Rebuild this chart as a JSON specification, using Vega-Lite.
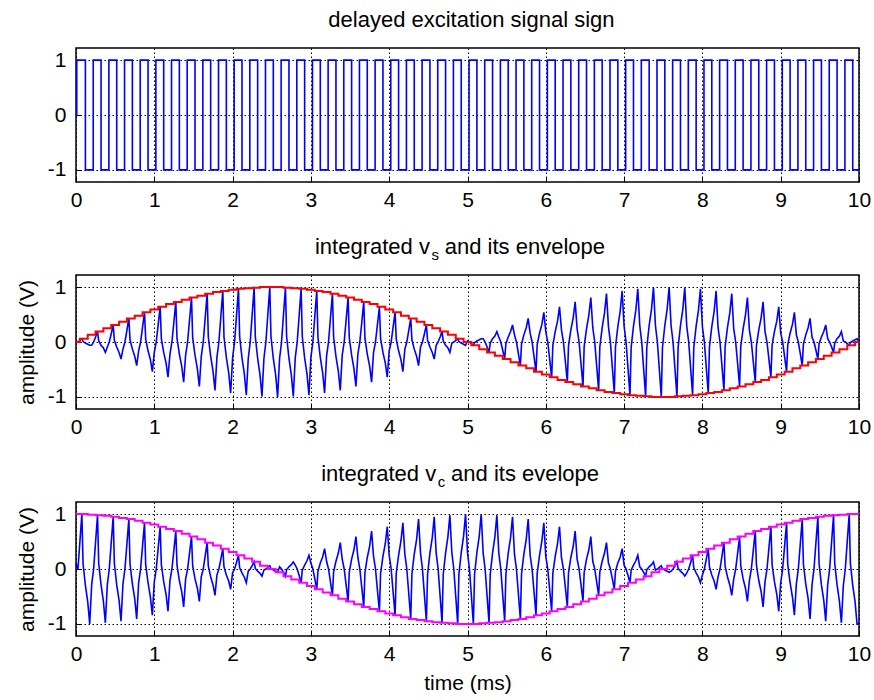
{
  "$schema": "https://vega.github.io/schema/vega-lite/v6.json",
  "background": "white",
  "padding": {"left": 15, "top": 8, "right": 5, "bottom": 5},
  "config": {
    "font": "Liberation Sans",
    "view": {"stroke": "#000000", "strokeWidth": 1.5},
    "axis": {
      "grid": true, "gridColor": "#000000", "gridDash": [1.5, 2.5], "gridWidth": 1, "gridOpacity": 1,
      "domain": false, "ticks": true, "tickColor": "#000000", "tickSize": -5, "tickWidth": 1,
      "labelFont": "Liberation Sans", "labelFontSize": 21, "labelColor": "#000000", "labelFlush": false,
      "titleFont": "Liberation Sans", "titleFontSize": 21, "titleFontWeight": "normal", "titleColor": "#000000"
    },
    "axisX": {"labelPadding": 12},
    "axisY": {"labelPadding": 15}
  },
  "datasets": {
    "sq": [
      {"t":0,"q":0},{"t":0.01,"q":1},{"t":0.12,"q":-1},{"t":0.22,"q":1},{"t":0.32,"q":-1},{"t":0.42,"q":1},{"t":0.52,"q":-1},{"t":0.62,"q":1},{"t":0.72,"q":-1},{"t":0.82,"q":1},{"t":0.92,"q":-1},
      {"t":1.02,"q":1},{"t":1.12,"q":-1},{"t":1.22,"q":1},{"t":1.32,"q":-1},{"t":1.42,"q":1},{"t":1.52,"q":-1},{"t":1.62,"q":1},{"t":1.72,"q":-1},{"t":1.82,"q":1},{"t":1.92,"q":-1},
      {"t":2.02,"q":1},{"t":2.12,"q":-1},{"t":2.22,"q":1},{"t":2.32,"q":-1},{"t":2.42,"q":1},{"t":2.52,"q":-1},{"t":2.62,"q":1},{"t":2.72,"q":-1},{"t":2.82,"q":1},{"t":2.92,"q":-1},
      {"t":3.02,"q":1},{"t":3.12,"q":-1},{"t":3.22,"q":1},{"t":3.32,"q":-1},{"t":3.42,"q":1},{"t":3.52,"q":-1},{"t":3.62,"q":1},{"t":3.72,"q":-1},{"t":3.82,"q":1},{"t":3.92,"q":-1},
      {"t":4.02,"q":1},{"t":4.12,"q":-1},{"t":4.22,"q":1},{"t":4.32,"q":-1},{"t":4.42,"q":1},{"t":4.52,"q":-1},{"t":4.62,"q":1},{"t":4.72,"q":-1},{"t":4.82,"q":1},{"t":4.92,"q":-1},
      {"t":5.02,"q":1},{"t":5.12,"q":-1},{"t":5.22,"q":1},{"t":5.32,"q":-1},{"t":5.42,"q":1},{"t":5.52,"q":-1},{"t":5.62,"q":1},{"t":5.72,"q":-1},{"t":5.82,"q":1},{"t":5.92,"q":-1},
      {"t":6.02,"q":1},{"t":6.12,"q":-1},{"t":6.22,"q":1},{"t":6.32,"q":-1},{"t":6.42,"q":1},{"t":6.52,"q":-1},{"t":6.62,"q":1},{"t":6.72,"q":-1},{"t":6.82,"q":1},{"t":6.92,"q":-1},
      {"t":7.02,"q":1},{"t":7.12,"q":-1},{"t":7.22,"q":1},{"t":7.32,"q":-1},{"t":7.42,"q":1},{"t":7.52,"q":-1},{"t":7.62,"q":1},{"t":7.72,"q":-1},{"t":7.82,"q":1},{"t":7.92,"q":-1},
      {"t":8.02,"q":1},{"t":8.12,"q":-1},{"t":8.22,"q":1},{"t":8.32,"q":-1},{"t":8.42,"q":1},{"t":8.52,"q":-1},{"t":8.62,"q":1},{"t":8.72,"q":-1},{"t":8.82,"q":1},{"t":8.92,"q":-1},
      {"t":9.02,"q":1},{"t":9.12,"q":-1},{"t":9.22,"q":1},{"t":9.32,"q":-1},{"t":9.42,"q":1},{"t":9.52,"q":-1},{"t":9.62,"q":1},{"t":9.72,"q":-1},{"t":9.82,"q":1},{"t":9.92,"q":-1},
      {"t":10,"q":-1}
    ],
    "env": [
      {"t":0,"es":0,"ec":1},{"t":0.05,"es":0.06,"ec":1},{"t":0.15,"es":0.13,"ec":0.99},{"t":0.25,"es":0.19,"ec":0.98},{"t":0.35,"es":0.25,"ec":0.97},{"t":0.45,"es":0.31,"ec":0.95},{"t":0.55,"es":0.37,"ec":0.93},{"t":0.65,"es":0.43,"ec":0.91},{"t":0.75,"es":0.48,"ec":0.88},{"t":0.85,"es":0.54,"ec":0.84},{"t":0.95,"es":0.59,"ec":0.81},
      {"t":1.05,"es":0.64,"ec":0.77},{"t":1.15,"es":0.69,"ec":0.73},{"t":1.25,"es":0.73,"ec":0.69},{"t":1.35,"es":0.77,"ec":0.64},{"t":1.45,"es":0.81,"ec":0.59},{"t":1.55,"es":0.84,"ec":0.54},{"t":1.65,"es":0.88,"ec":0.48},{"t":1.75,"es":0.91,"ec":0.43},{"t":1.85,"es":0.93,"ec":0.37},{"t":1.95,"es":0.95,"ec":0.31},
      {"t":2.05,"es":0.97,"ec":0.25},{"t":2.15,"es":0.98,"ec":0.19},{"t":2.25,"es":0.99,"ec":0.13},{"t":2.35,"es":1,"ec":0.06},{"t":2.45,"es":1,"ec":0},{"t":2.55,"es":1,"ec":-0.06},{"t":2.65,"es":0.99,"ec":-0.13},{"t":2.75,"es":0.98,"ec":-0.19},{"t":2.85,"es":0.97,"ec":-0.25},{"t":2.95,"es":0.95,"ec":-0.31},
      {"t":3.05,"es":0.93,"ec":-0.37},{"t":3.15,"es":0.91,"ec":-0.43},{"t":3.25,"es":0.88,"ec":-0.48},{"t":3.35,"es":0.84,"ec":-0.54},{"t":3.45,"es":0.81,"ec":-0.59},{"t":3.55,"es":0.77,"ec":-0.64},{"t":3.65,"es":0.73,"ec":-0.69},{"t":3.75,"es":0.69,"ec":-0.73},{"t":3.85,"es":0.64,"ec":-0.77},{"t":3.95,"es":0.59,"ec":-0.81},
      {"t":4.05,"es":0.54,"ec":-0.84},{"t":4.15,"es":0.48,"ec":-0.88},{"t":4.25,"es":0.43,"ec":-0.91},{"t":4.35,"es":0.37,"ec":-0.93},{"t":4.45,"es":0.31,"ec":-0.95},{"t":4.55,"es":0.25,"ec":-0.97},{"t":4.65,"es":0.19,"ec":-0.98},{"t":4.75,"es":0.13,"ec":-0.99},{"t":4.85,"es":0.06,"ec":-1},{"t":4.95,"es":0,"ec":-1},
      {"t":5.05,"es":-0.06,"ec":-1},{"t":5.15,"es":-0.13,"ec":-0.99},{"t":5.25,"es":-0.19,"ec":-0.98},{"t":5.35,"es":-0.25,"ec":-0.97},{"t":5.45,"es":-0.31,"ec":-0.95},{"t":5.55,"es":-0.37,"ec":-0.93},{"t":5.65,"es":-0.43,"ec":-0.91},{"t":5.75,"es":-0.48,"ec":-0.88},{"t":5.85,"es":-0.54,"ec":-0.84},{"t":5.95,"es":-0.59,"ec":-0.81},
      {"t":6.05,"es":-0.64,"ec":-0.77},{"t":6.15,"es":-0.69,"ec":-0.73},{"t":6.25,"es":-0.73,"ec":-0.69},{"t":6.35,"es":-0.77,"ec":-0.64},{"t":6.45,"es":-0.81,"ec":-0.59},{"t":6.55,"es":-0.84,"ec":-0.54},{"t":6.65,"es":-0.88,"ec":-0.48},{"t":6.75,"es":-0.91,"ec":-0.43},{"t":6.85,"es":-0.93,"ec":-0.37},{"t":6.95,"es":-0.95,"ec":-0.31},
      {"t":7.05,"es":-0.97,"ec":-0.25},{"t":7.15,"es":-0.98,"ec":-0.19},{"t":7.25,"es":-0.99,"ec":-0.13},{"t":7.35,"es":-1,"ec":-0.06},{"t":7.45,"es":-1,"ec":0},{"t":7.55,"es":-1,"ec":0.06},{"t":7.65,"es":-0.99,"ec":0.13},{"t":7.75,"es":-0.98,"ec":0.19},{"t":7.85,"es":-0.97,"ec":0.25},{"t":7.95,"es":-0.95,"ec":0.31},
      {"t":8.05,"es":-0.93,"ec":0.37},{"t":8.15,"es":-0.91,"ec":0.43},{"t":8.25,"es":-0.88,"ec":0.48},{"t":8.35,"es":-0.84,"ec":0.54},{"t":8.45,"es":-0.81,"ec":0.59},{"t":8.55,"es":-0.77,"ec":0.64},{"t":8.65,"es":-0.73,"ec":0.69},{"t":8.75,"es":-0.69,"ec":0.73},{"t":8.85,"es":-0.64,"ec":0.77},{"t":8.95,"es":-0.59,"ec":0.81},
      {"t":9.05,"es":-0.54,"ec":0.84},{"t":9.15,"es":-0.48,"ec":0.88},{"t":9.25,"es":-0.43,"ec":0.91},{"t":9.35,"es":-0.37,"ec":0.93},{"t":9.45,"es":-0.31,"ec":0.95},{"t":9.55,"es":-0.25,"ec":0.97},{"t":9.65,"es":-0.19,"ec":0.98},{"t":9.75,"es":-0.13,"ec":0.99},{"t":9.85,"es":-0.06,"ec":1},{"t":9.95,"es":0,"ec":1},
      {"t":10,"es":0,"ec":1}
    ],
    "bl": [
      {"t":0,"s":0,"c":0.1},{"t":0.025,"s":0,"c":0},{"t":0.05,"s":0.03,"c":0.5},{"t":0.075,"s":0.06,"c":1},{"t":0.09,"s":0.01,"c":0.1},{"t":0.12,"s":-0.02,"c":-0.3},{"t":0.15,"s":-0.04,"c":-0.6},{"t":0.175,"s":-0.06,"c":-1},
      {"t":0.2,"s":-0.06,"c":-0.29},{"t":0.225,"s":0,"c":0},{"t":0.25,"s":0.09,"c":0.49},{"t":0.275,"s":0.19,"c":0.98},{"t":0.29,"s":0.02,"c":0.1},{"t":0.32,"s":-0.06,"c":-0.29},{"t":0.35,"s":-0.11,"c":-0.59},{"t":0.375,"s":-0.19,"c":-0.98},
      {"t":0.4,"s":-0.09,"c":-0.29},{"t":0.425,"s":0,"c":0},{"t":0.45,"s":0.15,"c":0.48},{"t":0.475,"s":0.31,"c":0.95},{"t":0.49,"s":0.03,"c":0.1},{"t":0.52,"s":-0.09,"c":-0.29},{"t":0.55,"s":-0.19,"c":-0.57},{"t":0.575,"s":-0.31,"c":-0.95},
      {"t":0.6,"s":-0.13,"c":-0.27},{"t":0.625,"s":0,"c":0},{"t":0.65,"s":0.21,"c":0.45},{"t":0.675,"s":0.43,"c":0.91},{"t":0.69,"s":0.04,"c":0.09},{"t":0.72,"s":-0.13,"c":-0.27},{"t":0.75,"s":-0.26,"c":-0.54},{"t":0.775,"s":-0.43,"c":-0.91},
      {"t":0.8,"s":-0.16,"c":-0.25},{"t":0.825,"s":0,"c":0},{"t":0.85,"s":0.27,"c":0.42},{"t":0.875,"s":0.54,"c":0.84},{"t":0.89,"s":0.05,"c":0.08},{"t":0.92,"s":-0.16,"c":-0.25},{"t":0.95,"s":-0.32,"c":-0.51},{"t":0.975,"s":-0.54,"c":-0.84},
      {"t":1,"s":-0.19,"c":-0.23},{"t":1.025,"s":0,"c":0},{"t":1.05,"s":0.32,"c":0.39},{"t":1.075,"s":0.64,"c":0.77},{"t":1.09,"s":0.06,"c":0.08},{"t":1.12,"s":-0.19,"c":-0.23},{"t":1.15,"s":-0.38,"c":-0.46},{"t":1.175,"s":-0.64,"c":-0.77},
      {"t":1.2,"s":-0.22,"c":-0.21},{"t":1.225,"s":0,"c":0},{"t":1.25,"s":0.36,"c":0.34},{"t":1.275,"s":0.73,"c":0.69},{"t":1.29,"s":0.07,"c":0.07},{"t":1.32,"s":-0.22,"c":-0.21},{"t":1.35,"s":-0.44,"c":-0.41},{"t":1.375,"s":-0.73,"c":-0.69},
      {"t":1.4,"s":-0.24,"c":-0.18},{"t":1.425,"s":0,"c":0},{"t":1.45,"s":0.4,"c":0.29},{"t":1.475,"s":0.81,"c":0.59},{"t":1.49,"s":0.08,"c":0.06},{"t":1.52,"s":-0.24,"c":-0.18},{"t":1.55,"s":-0.49,"c":-0.35},{"t":1.575,"s":-0.81,"c":-0.59},
      {"t":1.6,"s":-0.26,"c":-0.14},{"t":1.625,"s":0,"c":0},{"t":1.65,"s":0.44,"c":0.24},{"t":1.675,"s":0.88,"c":0.48},{"t":1.69,"s":0.09,"c":0.05},{"t":1.72,"s":-0.26,"c":-0.14},{"t":1.75,"s":-0.53,"c":-0.29},{"t":1.775,"s":-0.88,"c":-0.48},
      {"t":1.8,"s":-0.28,"c":-0.11},{"t":1.825,"s":0,"c":0},{"t":1.85,"s":0.47,"c":0.18},{"t":1.875,"s":0.93,"c":0.37},{"t":1.89,"s":0.09,"c":0.04},{"t":1.92,"s":-0.28,"c":-0.11},{"t":1.95,"s":-0.56,"c":-0.22},{"t":1.975,"s":-0.93,"c":-0.37},
      {"t":2,"s":-0.29,"c":-0.07},{"t":2.025,"s":0,"c":0},{"t":2.05,"s":0.48,"c":0.12},{"t":2.075,"s":0.97,"c":0.25},{"t":2.09,"s":0.1,"c":0.02},{"t":2.12,"s":-0.29,"c":-0.07},{"t":2.15,"s":-0.58,"c":-0.15},{"t":2.175,"s":-0.97,"c":-0.25},
      {"t":2.2,"s":-0.3,"c":-0.04},{"t":2.225,"s":0,"c":0},{"t":2.25,"s":0.5,"c":0.06},{"t":2.275,"s":0.99,"c":0.13},{"t":2.29,"s":0.1,"c":0.01},{"t":2.32,"s":-0.3,"c":-0.04},{"t":2.35,"s":-0.6,"c":-0.08},{"t":2.375,"s":-0.99,"c":-0.13},
      {"t":2.4,"s":-0.3,"c":-0.02},{"t":2.425,"s":0,"c":0},{"t":2.45,"s":0.5,"c":0.03},{"t":2.475,"s":1,"c":0.06},{"t":2.49,"s":0.1,"c":0.01},{"t":2.52,"s":-0.3,"c":-0.02},{"t":2.55,"s":-0.6,"c":-0.04},{"t":2.575,"s":-1,"c":-0.06},
      {"t":2.6,"s":-0.3,"c":0.04},{"t":2.625,"s":0,"c":0},{"t":2.65,"s":0.5,"c":-0.06},{"t":2.675,"s":0.99,"c":-0.13},{"t":2.69,"s":0.1,"c":-0.01},{"t":2.72,"s":-0.3,"c":0.04},{"t":2.75,"s":-0.6,"c":0.08},{"t":2.775,"s":-0.99,"c":0.13},
      {"t":2.8,"s":-0.29,"c":0.07},{"t":2.825,"s":0,"c":0},{"t":2.85,"s":0.48,"c":-0.12},{"t":2.875,"s":0.97,"c":-0.25},{"t":2.89,"s":0.1,"c":-0.02},{"t":2.92,"s":-0.29,"c":0.07},{"t":2.95,"s":-0.58,"c":0.15},{"t":2.975,"s":-0.97,"c":0.25},
      {"t":3,"s":-0.28,"c":0.11},{"t":3.025,"s":0,"c":0},{"t":3.05,"s":0.47,"c":-0.18},{"t":3.075,"s":0.93,"c":-0.37},{"t":3.09,"s":0.09,"c":-0.04},{"t":3.12,"s":-0.28,"c":0.11},{"t":3.15,"s":-0.56,"c":0.22},{"t":3.175,"s":-0.93,"c":0.37},
      {"t":3.2,"s":-0.26,"c":0.14},{"t":3.225,"s":0,"c":0},{"t":3.25,"s":0.44,"c":-0.24},{"t":3.275,"s":0.88,"c":-0.48},{"t":3.29,"s":0.09,"c":-0.05},{"t":3.32,"s":-0.26,"c":0.14},{"t":3.35,"s":-0.53,"c":0.29},{"t":3.375,"s":-0.88,"c":0.48},
      {"t":3.4,"s":-0.24,"c":0.18},{"t":3.425,"s":0,"c":0},{"t":3.45,"s":0.4,"c":-0.29},{"t":3.475,"s":0.81,"c":-0.59},{"t":3.49,"s":0.08,"c":-0.06},{"t":3.52,"s":-0.24,"c":0.18},{"t":3.55,"s":-0.49,"c":0.35},{"t":3.575,"s":-0.81,"c":0.59},
      {"t":3.6,"s":-0.22,"c":0.21},{"t":3.625,"s":0,"c":0},{"t":3.65,"s":0.36,"c":-0.34},{"t":3.675,"s":0.73,"c":-0.69},{"t":3.69,"s":0.07,"c":-0.07},{"t":3.72,"s":-0.22,"c":0.21},{"t":3.75,"s":-0.44,"c":0.41},{"t":3.775,"s":-0.73,"c":0.69},
      {"t":3.8,"s":-0.19,"c":0.23},{"t":3.825,"s":0,"c":0},{"t":3.85,"s":0.32,"c":-0.39},{"t":3.875,"s":0.64,"c":-0.77},{"t":3.89,"s":0.06,"c":-0.08},{"t":3.92,"s":-0.19,"c":0.23},{"t":3.95,"s":-0.38,"c":0.46},{"t":3.975,"s":-0.64,"c":0.77},
      {"t":4,"s":-0.16,"c":0.25},{"t":4.025,"s":0,"c":0},{"t":4.05,"s":0.27,"c":-0.42},{"t":4.075,"s":0.54,"c":-0.84},{"t":4.09,"s":0.05,"c":-0.08},{"t":4.12,"s":-0.16,"c":0.25},{"t":4.15,"s":-0.32,"c":0.51},{"t":4.175,"s":-0.54,"c":0.84},
      {"t":4.2,"s":-0.13,"c":0.27},{"t":4.225,"s":0,"c":0},{"t":4.25,"s":0.21,"c":-0.45},{"t":4.275,"s":0.43,"c":-0.91},{"t":4.29,"s":0.04,"c":-0.09},{"t":4.32,"s":-0.13,"c":0.27},{"t":4.35,"s":-0.26,"c":0.54},{"t":4.375,"s":-0.43,"c":0.91},
      {"t":4.4,"s":-0.09,"c":0.29},{"t":4.425,"s":0,"c":0},{"t":4.45,"s":0.15,"c":-0.48},{"t":4.475,"s":0.31,"c":-0.95},{"t":4.49,"s":0.03,"c":-0.1},{"t":4.52,"s":-0.09,"c":0.29},{"t":4.55,"s":-0.19,"c":0.57},{"t":4.575,"s":-0.31,"c":0.95},
      {"t":4.6,"s":-0.06,"c":0.29},{"t":4.625,"s":0,"c":0},{"t":4.65,"s":0.09,"c":-0.49},{"t":4.675,"s":0.19,"c":-0.98},{"t":4.69,"s":0.02,"c":-0.1},{"t":4.72,"s":-0.06,"c":0.29},{"t":4.75,"s":-0.11,"c":0.59},{"t":4.775,"s":-0.19,"c":0.98},
      {"t":4.8,"s":-0.02,"c":0.3},{"t":4.825,"s":0,"c":0},{"t":4.85,"s":0.03,"c":-0.5},{"t":4.875,"s":0.06,"c":-1},{"t":4.89,"s":0.01,"c":-0.1},{"t":4.92,"s":-0.02,"c":0.3},{"t":4.95,"s":-0.04,"c":0.6},{"t":4.975,"s":-0.06,"c":1},
      {"t":5,"s":0.02,"c":0.3},{"t":5.025,"s":0,"c":0},{"t":5.05,"s":-0.03,"c":-0.5},{"t":5.075,"s":-0.06,"c":-1},{"t":5.09,"s":-0.01,"c":-0.1},{"t":5.12,"s":0.02,"c":0.3},{"t":5.15,"s":0.04,"c":0.6},{"t":5.175,"s":0.06,"c":1},
      {"t":5.2,"s":0.06,"c":0.29},{"t":5.225,"s":0,"c":0},{"t":5.25,"s":-0.09,"c":-0.49},{"t":5.275,"s":-0.19,"c":-0.98},{"t":5.29,"s":-0.02,"c":-0.1},{"t":5.32,"s":0.06,"c":0.29},{"t":5.35,"s":0.11,"c":0.59},{"t":5.375,"s":0.19,"c":0.98},
      {"t":5.4,"s":0.09,"c":0.29},{"t":5.425,"s":0,"c":0},{"t":5.45,"s":-0.15,"c":-0.48},{"t":5.475,"s":-0.31,"c":-0.95},{"t":5.49,"s":-0.03,"c":-0.1},{"t":5.52,"s":0.09,"c":0.29},{"t":5.55,"s":0.19,"c":0.57},{"t":5.575,"s":0.31,"c":0.95},
      {"t":5.6,"s":0.13,"c":0.27},{"t":5.625,"s":0,"c":0},{"t":5.65,"s":-0.21,"c":-0.45},{"t":5.675,"s":-0.43,"c":-0.91},{"t":5.69,"s":-0.04,"c":-0.09},{"t":5.72,"s":0.13,"c":0.27},{"t":5.75,"s":0.26,"c":0.54},{"t":5.775,"s":0.43,"c":0.91},
      {"t":5.8,"s":0.16,"c":0.25},{"t":5.825,"s":0,"c":0},{"t":5.85,"s":-0.27,"c":-0.42},{"t":5.875,"s":-0.54,"c":-0.84},{"t":5.89,"s":-0.05,"c":-0.08},{"t":5.92,"s":0.16,"c":0.25},{"t":5.95,"s":0.32,"c":0.51},{"t":5.975,"s":0.54,"c":0.84},
      {"t":6,"s":0.19,"c":0.23},{"t":6.025,"s":0,"c":0},{"t":6.05,"s":-0.32,"c":-0.39},{"t":6.075,"s":-0.64,"c":-0.77},{"t":6.09,"s":-0.06,"c":-0.08},{"t":6.12,"s":0.19,"c":0.23},{"t":6.15,"s":0.38,"c":0.46},{"t":6.175,"s":0.64,"c":0.77},
      {"t":6.2,"s":0.22,"c":0.21},{"t":6.225,"s":0,"c":0},{"t":6.25,"s":-0.36,"c":-0.34},{"t":6.275,"s":-0.73,"c":-0.69},{"t":6.29,"s":-0.07,"c":-0.07},{"t":6.32,"s":0.22,"c":0.21},{"t":6.35,"s":0.44,"c":0.41},{"t":6.375,"s":0.73,"c":0.69},
      {"t":6.4,"s":0.24,"c":0.18},{"t":6.425,"s":0,"c":0},{"t":6.45,"s":-0.4,"c":-0.29},{"t":6.475,"s":-0.81,"c":-0.59},{"t":6.49,"s":-0.08,"c":-0.06},{"t":6.52,"s":0.24,"c":0.18},{"t":6.55,"s":0.49,"c":0.35},{"t":6.575,"s":0.81,"c":0.59},
      {"t":6.6,"s":0.26,"c":0.14},{"t":6.625,"s":0,"c":0},{"t":6.65,"s":-0.44,"c":-0.24},{"t":6.675,"s":-0.88,"c":-0.48},{"t":6.69,"s":-0.09,"c":-0.05},{"t":6.72,"s":0.26,"c":0.14},{"t":6.75,"s":0.53,"c":0.29},{"t":6.775,"s":0.88,"c":0.48},
      {"t":6.8,"s":0.28,"c":0.11},{"t":6.825,"s":0,"c":0},{"t":6.85,"s":-0.47,"c":-0.18},{"t":6.875,"s":-0.93,"c":-0.37},{"t":6.89,"s":-0.09,"c":-0.04},{"t":6.92,"s":0.28,"c":0.11},{"t":6.95,"s":0.56,"c":0.22},{"t":6.975,"s":0.93,"c":0.37},
      {"t":7,"s":0.29,"c":0.07},{"t":7.025,"s":0,"c":0},{"t":7.05,"s":-0.48,"c":-0.12},{"t":7.075,"s":-0.97,"c":-0.25},{"t":7.09,"s":-0.1,"c":-0.02},{"t":7.12,"s":0.29,"c":0.07},{"t":7.15,"s":0.58,"c":0.15},{"t":7.175,"s":0.97,"c":0.25},
      {"t":7.2,"s":0.3,"c":0.04},{"t":7.225,"s":0,"c":0},{"t":7.25,"s":-0.5,"c":-0.06},{"t":7.275,"s":-0.99,"c":-0.13},{"t":7.29,"s":-0.1,"c":-0.01},{"t":7.32,"s":0.3,"c":0.04},{"t":7.35,"s":0.6,"c":0.08},{"t":7.375,"s":0.99,"c":0.13},
      {"t":7.4,"s":0.3,"c":-0.02},{"t":7.425,"s":0,"c":0},{"t":7.45,"s":-0.5,"c":0.03},{"t":7.475,"s":-1,"c":0.06},{"t":7.49,"s":-0.1,"c":0.01},{"t":7.52,"s":0.3,"c":-0.02},{"t":7.55,"s":0.6,"c":-0.04},{"t":7.575,"s":1,"c":-0.06},
      {"t":7.6,"s":0.3,"c":-0.04},{"t":7.625,"s":0,"c":0},{"t":7.65,"s":-0.5,"c":0.06},{"t":7.675,"s":-0.99,"c":0.13},{"t":7.69,"s":-0.1,"c":0.01},{"t":7.72,"s":0.3,"c":-0.04},{"t":7.75,"s":0.6,"c":-0.08},{"t":7.775,"s":0.99,"c":-0.13},
      {"t":7.8,"s":0.29,"c":-0.07},{"t":7.825,"s":0,"c":0},{"t":7.85,"s":-0.48,"c":0.12},{"t":7.875,"s":-0.97,"c":0.25},{"t":7.89,"s":-0.1,"c":0.02},{"t":7.92,"s":0.29,"c":-0.07},{"t":7.95,"s":0.58,"c":-0.15},{"t":7.975,"s":0.97,"c":-0.25},
      {"t":8,"s":0.28,"c":-0.11},{"t":8.025,"s":0,"c":0},{"t":8.05,"s":-0.47,"c":0.18},{"t":8.075,"s":-0.93,"c":0.37},{"t":8.09,"s":-0.09,"c":0.04},{"t":8.12,"s":0.28,"c":-0.11},{"t":8.15,"s":0.56,"c":-0.22},{"t":8.175,"s":0.93,"c":-0.37},
      {"t":8.2,"s":0.26,"c":-0.14},{"t":8.225,"s":0,"c":0},{"t":8.25,"s":-0.44,"c":0.24},{"t":8.275,"s":-0.88,"c":0.48},{"t":8.29,"s":-0.09,"c":0.05},{"t":8.32,"s":0.26,"c":-0.14},{"t":8.35,"s":0.53,"c":-0.29},{"t":8.375,"s":0.88,"c":-0.48},
      {"t":8.4,"s":0.24,"c":-0.18},{"t":8.425,"s":0,"c":0},{"t":8.45,"s":-0.4,"c":0.29},{"t":8.475,"s":-0.81,"c":0.59},{"t":8.49,"s":-0.08,"c":0.06},{"t":8.52,"s":0.24,"c":-0.18},{"t":8.55,"s":0.49,"c":-0.35},{"t":8.575,"s":0.81,"c":-0.59},
      {"t":8.6,"s":0.22,"c":-0.21},{"t":8.625,"s":0,"c":0},{"t":8.65,"s":-0.36,"c":0.34},{"t":8.675,"s":-0.73,"c":0.69},{"t":8.69,"s":-0.07,"c":0.07},{"t":8.72,"s":0.22,"c":-0.21},{"t":8.75,"s":0.44,"c":-0.41},{"t":8.775,"s":0.73,"c":-0.69},
      {"t":8.8,"s":0.19,"c":-0.23},{"t":8.825,"s":0,"c":0},{"t":8.85,"s":-0.32,"c":0.39},{"t":8.875,"s":-0.64,"c":0.77},{"t":8.89,"s":-0.06,"c":0.08},{"t":8.92,"s":0.19,"c":-0.23},{"t":8.95,"s":0.38,"c":-0.46},{"t":8.975,"s":0.64,"c":-0.77},
      {"t":9,"s":0.16,"c":-0.25},{"t":9.025,"s":0,"c":0},{"t":9.05,"s":-0.27,"c":0.42},{"t":9.075,"s":-0.54,"c":0.84},{"t":9.09,"s":-0.05,"c":0.08},{"t":9.12,"s":0.16,"c":-0.25},{"t":9.15,"s":0.32,"c":-0.51},{"t":9.175,"s":0.54,"c":-0.84},
      {"t":9.2,"s":0.13,"c":-0.27},{"t":9.225,"s":0,"c":0},{"t":9.25,"s":-0.21,"c":0.45},{"t":9.275,"s":-0.43,"c":0.91},{"t":9.29,"s":-0.04,"c":0.09},{"t":9.32,"s":0.13,"c":-0.27},{"t":9.35,"s":0.26,"c":-0.54},{"t":9.375,"s":0.43,"c":-0.91},
      {"t":9.4,"s":0.09,"c":-0.29},{"t":9.425,"s":0,"c":0},{"t":9.45,"s":-0.15,"c":0.48},{"t":9.475,"s":-0.31,"c":0.95},{"t":9.49,"s":-0.03,"c":0.1},{"t":9.52,"s":0.09,"c":-0.29},{"t":9.55,"s":0.19,"c":-0.57},{"t":9.575,"s":0.31,"c":-0.95},
      {"t":9.6,"s":0.06,"c":-0.29},{"t":9.625,"s":0,"c":0},{"t":9.65,"s":-0.09,"c":0.49},{"t":9.675,"s":-0.19,"c":0.98},{"t":9.69,"s":-0.02,"c":0.1},{"t":9.72,"s":0.06,"c":-0.29},{"t":9.75,"s":0.11,"c":-0.59},{"t":9.775,"s":0.19,"c":-0.98},
      {"t":9.8,"s":0.02,"c":-0.3},{"t":9.825,"s":0,"c":0},{"t":9.85,"s":-0.03,"c":0.5},{"t":9.875,"s":-0.06,"c":1},{"t":9.89,"s":-0.01,"c":0.1},{"t":9.92,"s":0.02,"c":-0.3},{"t":9.95,"s":0.04,"c":-0.6},{"t":9.975,"s":0.06,"c":-1},
      {"t":10,"s":0,"c":-1}
    ]
  },
  "spacing": 93,
  "bounds": "flush",
  "vconcat": [
    {
      "width": 783, "height": 134,
      "layer": [
        {
          "data": {"name": "sq"},
          "mark": {"type": "line", "interpolate": "step-after", "color": "#0000ff", "strokeWidth": 1.6},
          "encoding": {
            "x": {"field": "t", "type": "quantitative", "scale": {"domain": [0, 10], "nice": false, "zero": false}, "axis": {"values": [0,1,2,3,4,5,6,7,8,9,10], "title": null}},
            "y": {"field": "q", "type": "quantitative", "scale": {"domain": [-1.22, 1.22], "nice": false}, "axis": {"values": [-1, 0, 1], "title": null, "labelExpr": "'' + datum.value"}}
          }
        },
        {
          "data": {"values": [{}]},
          "mark": {"type": "text", "align": "center", "baseline": "alphabetic", "fontSize": 22, "font": "Liberation Sans", "color": "#000000"},
          "encoding": {
            "x": {"datum": 5.05, "type": "quantitative", "scale": {"domain": [0, 10], "nice": false, "zero": false}, "axis": {"values": [0,1,2,3,4,5,6,7,8,9,10], "title": null}},
            "y": {"datum": 1.6, "type": "quantitative", "scale": {"domain": [-1.22, 1.22], "nice": false}, "axis": {"values": [-1, 0, 1], "title": null, "labelExpr": "'' + datum.value"}},
            "text": {"value": "delayed excitation signal sign"}
          }
        }
      ]
    },
    {
      "width": 783, "height": 134,
      "layer": [
        {
          "data": {"name": "bl"},
          "mark": {"type": "line", "color": "#0000ff", "strokeWidth": 1.6},
          "encoding": {
            "x": {"field": "t", "type": "quantitative", "scale": {"domain": [0, 10], "nice": false, "zero": false}, "axis": {"values": [0,1,2,3,4,5,6,7,8,9,10], "title": null}},
            "y": {"field": "s", "type": "quantitative", "scale": {"domain": [-1.22, 1.22], "nice": false}, "axis": {"values": [-1, 0, 1], "title": "amplitude (V)", "titlePadding": 10, "labelExpr": "'' + datum.value"}}
          }
        },
        {
          "data": {"name": "env"},
          "mark": {"type": "line", "interpolate": "step-after", "color": "#ff0000", "strokeWidth": 2},
          "encoding": {
            "x": {"field": "t", "type": "quantitative", "scale": {"domain": [0, 10], "nice": false, "zero": false}, "axis": {"values": [0,1,2,3,4,5,6,7,8,9,10], "title": null}},
            "y": {"field": "es", "type": "quantitative", "scale": {"domain": [-1.22, 1.22], "nice": false}, "axis": {"values": [-1, 0, 1], "title": "amplitude (V)", "titlePadding": 10, "labelExpr": "'' + datum.value"}}
          }
        },
        {
          "data": {"values": [{}]},
          "mark": {"type": "text", "align": "right", "baseline": "alphabetic", "fontSize": 22, "font": "Liberation Sans", "color": "#000000"},
          "encoding": {
            "x": {"datum": 4.52, "type": "quantitative", "scale": {"domain": [0, 10], "nice": false, "zero": false}, "axis": {"values": [0,1,2,3,4,5,6,7,8,9,10], "title": null}},
            "y": {"datum": 1.6, "type": "quantitative", "scale": {"domain": [-1.22, 1.22], "nice": false}, "axis": {"values": [-1, 0, 1], "title": "amplitude (V)", "titlePadding": 10, "labelExpr": "'' + datum.value"}},
            "text": {"value": "integrated v"}
          }
        },
        {
          "data": {"values": [{}]},
          "mark": {"type": "text", "align": "left", "baseline": "alphabetic", "fontSize": 15, "font": "Liberation Sans", "color": "#000000"},
          "encoding": {
            "x": {"datum": 4.54, "type": "quantitative", "scale": {"domain": [0, 10], "nice": false, "zero": false}, "axis": {"values": [0,1,2,3,4,5,6,7,8,9,10], "title": null}},
            "y": {"datum": 1.49, "type": "quantitative", "scale": {"domain": [-1.22, 1.22], "nice": false}, "axis": {"values": [-1, 0, 1], "title": "amplitude (V)", "titlePadding": 10, "labelExpr": "'' + datum.value"}},
            "text": {"value": "s"}
          }
        },
        {
          "data": {"values": [{}]},
          "mark": {"type": "text", "align": "left", "baseline": "alphabetic", "fontSize": 22, "font": "Liberation Sans", "color": "#000000"},
          "encoding": {
            "x": {"datum": 4.71, "type": "quantitative", "scale": {"domain": [0, 10], "nice": false, "zero": false}, "axis": {"values": [0,1,2,3,4,5,6,7,8,9,10], "title": null}},
            "y": {"datum": 1.6, "type": "quantitative", "scale": {"domain": [-1.22, 1.22], "nice": false}, "axis": {"values": [-1, 0, 1], "title": "amplitude (V)", "titlePadding": 10, "labelExpr": "'' + datum.value"}},
            "text": {"value": "and its envelope"}
          }
        }
      ]
    },
    {
      "width": 783, "height": 134,
      "layer": [
        {
          "data": {"name": "bl"},
          "mark": {"type": "line", "color": "#0000ff", "strokeWidth": 1.6},
          "encoding": {
            "x": {"field": "t", "type": "quantitative", "scale": {"domain": [0, 10], "nice": false, "zero": false}, "axis": {"values": [0,1,2,3,4,5,6,7,8,9,10], "title": "time (ms)", "titlePadding": 8}},
            "y": {"field": "c", "type": "quantitative", "scale": {"domain": [-1.22, 1.22], "nice": false}, "axis": {"values": [-1, 0, 1], "title": "amplitude (V)", "titlePadding": 10, "labelExpr": "'' + datum.value"}}
          }
        },
        {
          "data": {"name": "env"},
          "mark": {"type": "line", "interpolate": "step-after", "color": "#ff00ff", "strokeWidth": 2},
          "encoding": {
            "x": {"field": "t", "type": "quantitative", "scale": {"domain": [0, 10], "nice": false, "zero": false}, "axis": {"values": [0,1,2,3,4,5,6,7,8,9,10], "title": "time (ms)", "titlePadding": 8}},
            "y": {"field": "ec", "type": "quantitative", "scale": {"domain": [-1.22, 1.22], "nice": false}, "axis": {"values": [-1, 0, 1], "title": "amplitude (V)", "titlePadding": 10, "labelExpr": "'' + datum.value"}}
          }
        },
        {
          "data": {"values": [{}]},
          "mark": {"type": "text", "align": "right", "baseline": "alphabetic", "fontSize": 22, "font": "Liberation Sans", "color": "#000000"},
          "encoding": {
            "x": {"datum": 4.6, "type": "quantitative", "scale": {"domain": [0, 10], "nice": false, "zero": false}, "axis": {"values": [0,1,2,3,4,5,6,7,8,9,10], "title": "time (ms)", "titlePadding": 8}},
            "y": {"datum": 1.6, "type": "quantitative", "scale": {"domain": [-1.22, 1.22], "nice": false}, "axis": {"values": [-1, 0, 1], "title": "amplitude (V)", "titlePadding": 10, "labelExpr": "'' + datum.value"}},
            "text": {"value": "integrated v"}
          }
        },
        {
          "data": {"values": [{}]},
          "mark": {"type": "text", "align": "left", "baseline": "alphabetic", "fontSize": 15, "font": "Liberation Sans", "color": "#000000"},
          "encoding": {
            "x": {"datum": 4.62, "type": "quantitative", "scale": {"domain": [0, 10], "nice": false, "zero": false}, "axis": {"values": [0,1,2,3,4,5,6,7,8,9,10], "title": "time (ms)", "titlePadding": 8}},
            "y": {"datum": 1.49, "type": "quantitative", "scale": {"domain": [-1.22, 1.22], "nice": false}, "axis": {"values": [-1, 0, 1], "title": "amplitude (V)", "titlePadding": 10, "labelExpr": "'' + datum.value"}},
            "text": {"value": "c"}
          }
        },
        {
          "data": {"values": [{}]},
          "mark": {"type": "text", "align": "left", "baseline": "alphabetic", "fontSize": 22, "font": "Liberation Sans", "color": "#000000"},
          "encoding": {
            "x": {"datum": 4.79, "type": "quantitative", "scale": {"domain": [0, 10], "nice": false, "zero": false}, "axis": {"values": [0,1,2,3,4,5,6,7,8,9,10], "title": "time (ms)", "titlePadding": 8}},
            "y": {"datum": 1.6, "type": "quantitative", "scale": {"domain": [-1.22, 1.22], "nice": false}, "axis": {"values": [-1, 0, 1], "title": "amplitude (V)", "titlePadding": 10, "labelExpr": "'' + datum.value"}},
            "text": {"value": "and its evelope"}
          }
        }
      ]
    }
  ]
}
